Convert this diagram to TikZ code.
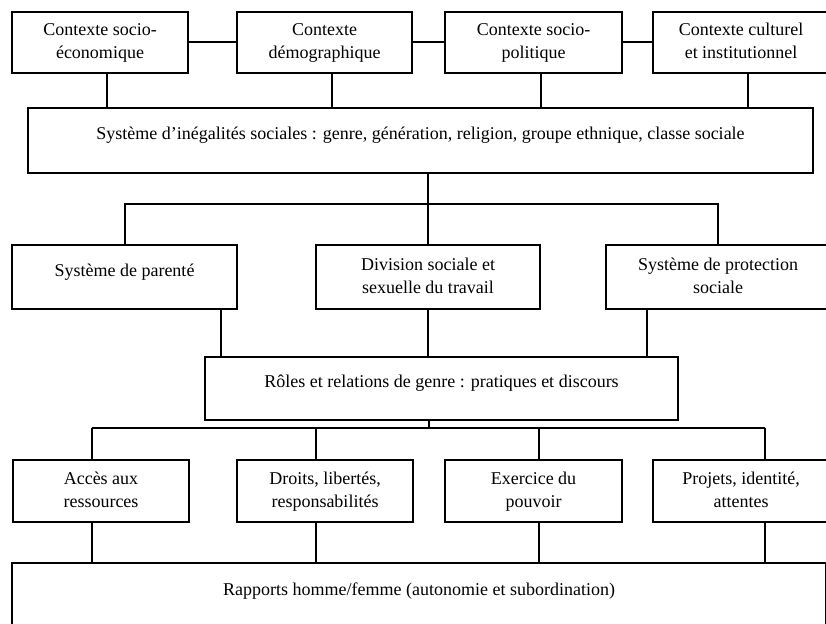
\documentclass[tikz,border=0pt]{standalone}
\usepackage{fontspec}
\setmainfont{Liberation Serif}

\begin{document}
\begin{tikzpicture}[
      x=1pt, y=-1pt,
      every node/.style={font=\fontsize{18}{23}\selectfont},
      box/.style={draw, line width=2pt, align=center, inner sep=0pt, outer sep=0pt,
        text height=39pt, text depth=7pt},
      oneline/.style={text height=16pt, text depth=18pt},
      link/.style={line width=2pt}
    ]
      \useasboundingbox (0,0) rectangle (826,623);
      \node[box, minimum width=176pt, minimum height=61pt] (ctxeco) at (100,42.5) {Contexte socio-\\économique};
      \node[box, minimum width=175pt, minimum height=61pt] (ctxdem) at (324.5,42.5) {Contexte\\démographique};
      \node[box, minimum width=177pt, minimum height=61pt] (ctxpol) at (533.5,42.5) {Contexte socio-\\politique};
      \node[box, minimum width=176pt, minimum height=61pt] (ctxcul) at (741,42.5) {Contexte culturel\\et institutionnel};
      \node[box, oneline, minimum width=785pt, minimum height=65pt] (inegal) at (420.5,140.5)
        {Système d’inégalités sociales~: genre, génération, religion, groupe ethnique, classe sociale};
      \node[box, oneline, minimum width=225pt, minimum height=64pt] (parente) at (124.5,277) {Système de parenté};
      \node[box, minimum width=224pt, minimum height=64pt] (division) at (428,277) {Division sociale et\\sexuelle du travail};
      \node[box, minimum width=225pt, minimum height=64pt] (protect) at (718,277) {Système de protection\\sociale};
      \node[box, oneline, minimum width=473pt, minimum height=63pt] (roles) at (441.5,388.5)
        {Rôles et relations de genre~: pratiques et discours};
      \node[box, minimum width=176pt, minimum height=62pt] (acces) at (101,491) {Accès aux\\ressources};
      \node[box, minimum width=176pt, minimum height=62pt] (droits) at (325,491) {Droits, libertés,\\responsabilités};
      \node[box, minimum width=177pt, minimum height=62pt] (exercice) at (533.5,491) {Exercice du\\pouvoir};
      \node[box, minimum width=176pt, minimum height=62pt] (projets) at (741,491) {Projets, identité,\\attentes};
      \node[box, oneline, minimum width=814pt, minimum height=66pt] (rapports) at (419,596)
        {Rapports homme/femme (autonomie et subordination)};
      \coordinate (fork1) at (428,204);
      \coordinate (fork2) at (429,428);

      \draw[link] (ctxeco.east) -- (ctxdem.west);
      \draw[link] (ctxdem.east) -- (ctxpol.west);
      \draw[link] (ctxpol.east) -- (ctxcul.west);
      \foreach \n in {ctxeco,ctxdem,ctxpol,ctxcul}
        \draw[link] ([xshift=7pt]\n.south) -- ([xshift=7pt]\n.south |- inegal.north);
      \draw[link] (inegal.south -| division.north) -- (division.north);
      \draw[link] (parente.north) |- (fork1) -| (protect.north);
      \draw[link] ([xshift=96pt]parente.south) -- ([xshift=96pt]parente.south |- roles.north);
      \draw[link] (division.south) -- (division.south |- roles.north);
      \draw[link] ([xshift=-71pt]protect.south) -- ([xshift=-71pt]protect.south |- roles.north);
      \draw[link] (roles.south -| fork2) -- (fork2);
      \draw[link] ([xshift=-9pt]acces.north |- fork2) -- ([xshift=24pt]projets.north |- fork2);
      \foreach \n/\dx in {acces/-9,droits/-9,exercice/5.5,projets/24}{
        \draw[link] ([xshift=\dx pt]\n.north) -- ([xshift=\dx pt]\n.north |- fork2);
        \draw[link] ([xshift=\dx pt]\n.south) -- ([xshift=\dx pt]\n.south |- rapports.north);
      }
    \end{tikzpicture}
\end{document}
